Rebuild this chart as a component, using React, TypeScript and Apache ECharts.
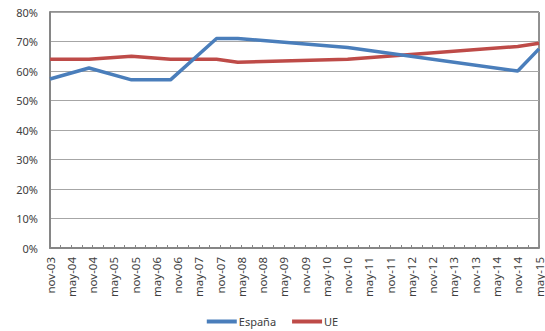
import React, { useEffect, useRef } from "react";
import * as echarts from "echarts";

// Tick labels every 6 months, starting nov-03 (month 0) to may-15 (month 138)
const xLabels = [
  "nov-03", "may-04", "nov-04", "may-05", "nov-05", "may-06", "nov-06", "may-07",
  "nov-07", "may-08", "nov-08", "may-09", "nov-09", "may-10", "nov-10", "may-11",
  "nov-11", "may-12", "nov-12", "may-13", "nov-13", "may-14", "nov-14", "may-15",
];

// Months since nov-03 where the lines have a point
const espanaMonths = [0, 11, 23, 34, 47, 53, 84, 132, 138];
const espanaValues = [57.3, 61, 57, 57, 71, 71, 68, 60, 67.5];

const ueMonths = [0, 11, 23, 34, 47, 53, 84, 132, 138];
const ueValues = [64, 64, 65, 64, 64, 63, 64, 68.3, 69.4];

const seriesNames = ["España", "UE"];
const yTicks = [0, 10, 20, 30, 40, 50, 60, 70, 80];

export default function App() {
  const ref = useRef<HTMLDivElement>(null);
  useEffect(() => {
    if (!ref.current) return;
    const chart = echarts.init(ref.current, null, { renderer: "svg" });
    const font = "'Noto Sans', sans-serif";
    const lastMonth = (xLabels.length - 1) * 6;
    chart.setOption({
      animation: false,
      backgroundColor: "#ffffff",
      grid: {
        left: 50,
        right: 5,
        top: 12,
        bottom: 83,
        show: true,
        borderColor: "#222222",
        borderWidth: 1,
      },
      legend: {
        bottom: -1,
        left: "center",
        icon: "rect",
        itemWidth: 30,
        itemHeight: 4,
        itemGap: 16,
        textStyle: { fontFamily: font, fontSize: 11, color: "#404040", padding: [0, 0, 0, -3] },
        data: seriesNames,
      },
      xAxis: {
        type: "value",
        min: 0,
        max: lastMonth,
        interval: 3,
        axisLine: { show: true, lineStyle: { color: "#868686", width: 2 } },
        axisTick: { show: true, inside: true, length: 3, lineStyle: { color: "#868686" } },
        splitLine: { show: false },
        axisLabel: {
          rotate: 90,
          fontFamily: font,
          fontSize: 11.5,
          color: "#404040",
          margin: 9,
          showMinLabel: true,
          showMaxLabel: true,
          formatter: (v: number) => (v % 6 === 0 ? xLabels[v / 6] : ""),
        },
      },
      yAxis: {
        type: "value",
        min: yTicks[0],
        max: yTicks[yTicks.length - 1],
        interval: 10,
        axisLine: { show: true, lineStyle: { color: "#868686", width: 2 } },
        axisTick: { show: false },
        splitLine: { show: true, lineStyle: { color: "#a6a6a6", width: 1 } },
        axisLabel: {
          fontFamily: font,
          fontSize: 11,
          color: "#404040",
          margin: 12,
          formatter: (v: number) => `${v}%`,
        },
      },
      series: [
        {
          name: seriesNames[0],
          type: "line",
          showSymbol: false,
          symbol: "none",
          color: "#4a7ebb",
          lineStyle: { width: 3.5, color: "#4a7ebb" },
          data: espanaMonths.map((m, i) => [m, espanaValues[i]]),
          z: 3,
        },
        {
          name: seriesNames[1],
          type: "line",
          showSymbol: false,
          symbol: "none",
          color: "#be4b48",
          lineStyle: { width: 3.5, color: "#be4b48" },
          data: ueMonths.map((m, i) => [m, ueValues[i]]),
          z: 2,
        },
      ],
    });
    return () => chart.dispose();
  }, []);
  return <div ref={ref} style={{ width: 545, height: 331, position: "absolute", left: 0, top: 0 }} />;
}
